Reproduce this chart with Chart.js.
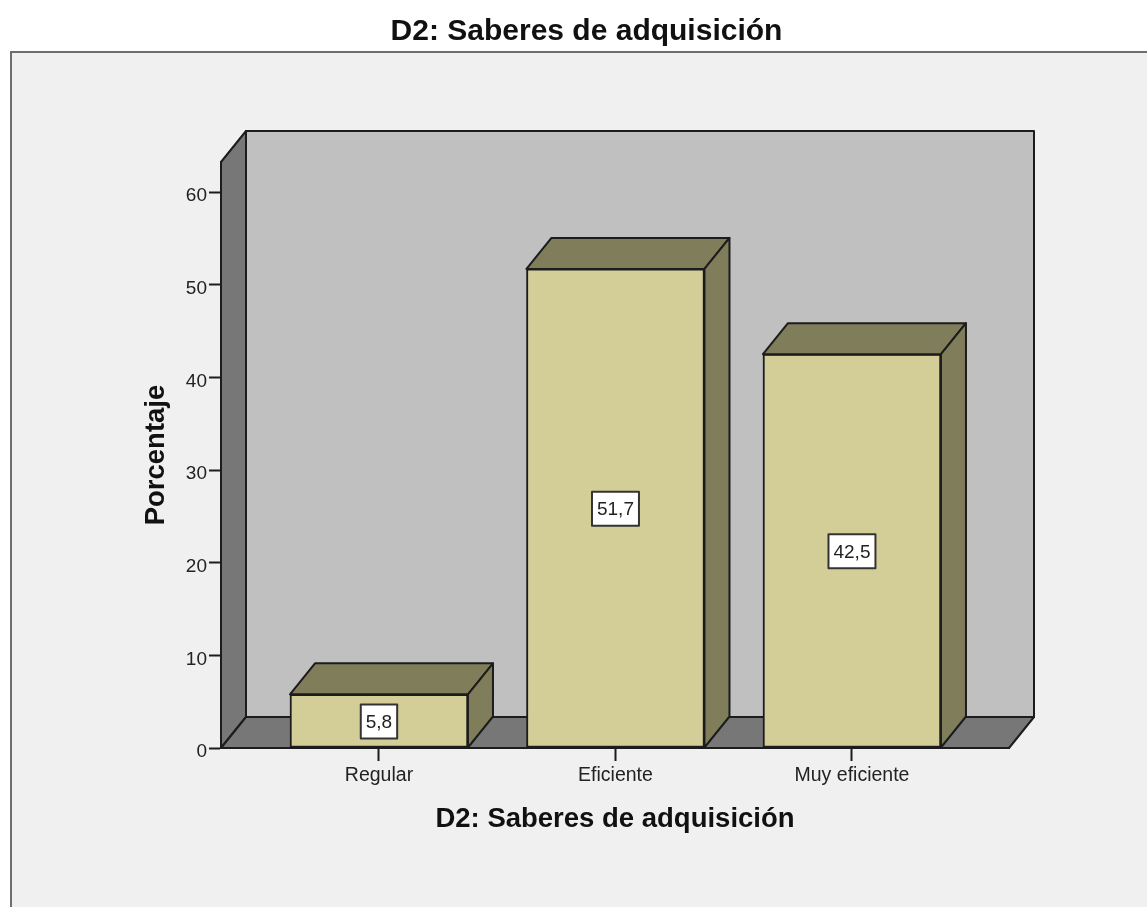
<!DOCTYPE html>
<html>
<head>
<meta charset="utf-8">
<title>D2: Saberes de adquisición</title>
<script src="https://cdn.jsdelivr.net/npm/chart.js@4"></script>
<style>
  html, body { margin: 0; padding: 0; background: #fff; overflow: hidden; }
  #wrap { width: 1147px; height: 907px; }
</style>
</head>
<body>
<div id="wrap"><canvas id="chart" width="1147" height="907"></canvas></div>
<script>
// Data
var categories = ['Regular', 'Eficiente', 'Muy eficiente'];
var percentages = [5.8, 51.7, 42.5];
var yTicks = [0, 10, 20, 30, 40, 50, 60];
var chartTitle = 'D2: Saberes de adquisición';
var yTitle = 'Porcentaje';

var LINE = '#1c1c1c';
var FONT = '"Liberation Sans", Arial, sans-serif';
var DEPTH_X = 25, DEPTH_Y = 31;

// ── Panel and the box behind the bars ─────────────
function poly(ctx, pts, fill) {
  ctx.beginPath();
  ctx.moveTo(pts[0][0], pts[0][1]);
  for (var i = 1; i < pts.length; i++) ctx.lineTo(pts[i][0], pts[i][1]);
  ctx.closePath();
  ctx.fillStyle = fill;
  ctx.fill();
  ctx.strokeStyle = LINE;
  ctx.lineWidth = 2;
  ctx.lineJoin = 'round';
  ctx.stroke();
}

var backdrop = {
  id: 'backdrop',
  // the title sits a little right of the page centre
  afterLayout: function(chart) {
    chart.titleBlock.left += 11.5;
    chart.titleBlock.right += 11.5;
  },
  beforeDraw: function(chart) {
    var ctx = chart.ctx, a = chart.chartArea;
    var l = a.left, r = a.right, t = a.top, b = a.bottom;
    ctx.save();
    ctx.fillStyle = '#f0f0f0';
    ctx.fillRect(11, 52, chart.width - 11, chart.height - 52);
    ctx.strokeStyle = '#6e6e6e';
    ctx.lineWidth = 2;
    ctx.beginPath();
    ctx.moveTo(11, chart.height);
    ctx.lineTo(11, 52);
    ctx.lineTo(chart.width, 52);
    ctx.stroke();
    poly(ctx, [[l + DEPTH_X, t - DEPTH_Y], [r + DEPTH_X, t - DEPTH_Y], [r + DEPTH_X, b - DEPTH_Y], [l + DEPTH_X, b - DEPTH_Y]], '#c0c0c0');
    poly(ctx, [[l, b], [l, t], [l + DEPTH_X, t - DEPTH_Y], [l + DEPTH_X, b - DEPTH_Y]], '#777777');
    poly(ctx, [[l, b], [l + DEPTH_X, b - DEPTH_Y], [r + DEPTH_X, b - DEPTH_Y], [r, b]], '#777777');
    ctx.restore();
  }
};

// ── Top and side of every bar, plus the value boxes ─
var barExtras = {
  id: 'barExtras',
  afterDatasetsDraw: function(chart) {
    var ctx = chart.ctx;
    var bars = chart.getDatasetMeta(0).data;
    ctx.save();
    bars.forEach(function(bar) {
      var x0 = bar.x - bar.width / 2, x1 = bar.x + bar.width / 2;
      poly(ctx, [[x0, bar.y], [x0 + DEPTH_X, bar.y - DEPTH_Y], [x1 + DEPTH_X, bar.y - DEPTH_Y], [x1, bar.y]], '#807d5b');
      poly(ctx, [[x1, bar.y], [x1 + DEPTH_X, bar.y - DEPTH_Y], [x1 + DEPTH_X, bar.base - DEPTH_Y], [x1, bar.base]], '#807d5b');
    });
    ctx.font = '19px ' + FONT;
    ctx.textAlign = 'center';
    ctx.textBaseline = 'middle';
    bars.forEach(function(bar, i) {
      var text = String(percentages[i]).replace('.', ',');
      var w = ctx.measureText(text).width + 10;
      var h = 34;
      var cy = (bar.y + bar.base) / 2 + 0.5;
      ctx.fillStyle = '#ffffff';
      ctx.fillRect(bar.x - w / 2, cy - h / 2, w, h);
      ctx.strokeStyle = '#333333';
      ctx.lineWidth = 2;
      ctx.strokeRect(bar.x - w / 2, cy - h / 2, w, h);
      ctx.fillStyle = '#222222';
      ctx.fillText(text, bar.x, cy + 1);
    });
    ctx.restore();
  }
};

new Chart(document.getElementById('chart'), {
  type: 'bar',
  data: {
    labels: categories,
    datasets: [{
      label: yTitle,
      data: categories.map(function(c, i){ return { x: i, y: percentages[i] }; }),
      backgroundColor: '#d3ce98',
      borderColor: LINE,
      borderWidth: 2,
      borderSkipped: false,
      barThickness: 178
    }]
  },
  options: {
    responsive: false,
    animation: false,
    layout: {
      autoPadding: false,
      padding: { left: 141, right: 138, top: 0, bottom: 72 }
    },
    plugins: {
      legend: { display: false },
      tooltip: { enabled: false },
      title: {
        display: true,
        text: chartTitle,
        color: '#111111',
        font: { family: FONT, size: 30, weight: 'bold', lineHeight: 1.2 },
        padding: { top: 14, bottom: 112 }
      }
    },
    scales: {
      x: {
        type: 'linear',
        offset: false,
        min: -0.668,
        max: 2.664,
        border: { color: LINE, width: 2 },
        grid: { offset: false, drawOnChartArea: false, tickLength: 13, tickColor: LINE, tickWidth: 2 },
        ticks: {
          stepSize: 1,
          includeBounds: false,
          autoSkip: false,
          maxRotation: 0,
          color: '#222222',
          padding: 3,
          font: { family: FONT, size: 19.5 },
          callback: function(v){ return categories[v]; }
        },
        title: {
          display: true,
          text: chartTitle,
          color: '#111111',
          font: { family: FONT, size: 27.5, weight: 'bold', lineHeight: 1.1 },
          padding: 0
        },
        afterFit: function(s){ s.height = 87; }
      },
      y: {
        min: 0,
        max: 63.24,
        border: { color: LINE, width: 2 },
        grid: { drawOnChartArea: false, tickLength: 12, tickColor: LINE, tickWidth: 2 },
        ticks: {
          stepSize: 10,
          includeBounds: false,
          color: '#222222',
          padding: 2,
          labelOffset: 4,
          font: { family: FONT, size: 19 },
          callback: function(v){ return yTicks.indexOf(v) >= 0 ? String(v) : ''; }
        },
        title: {
          display: true,
          text: yTitle,
          color: '#111111',
          font: { family: FONT, size: 27.5, weight: 'bold', lineHeight: 1.1 },
          padding: 0
        },
        afterFit: function(s){ s.width = 80; }
      }
    }
  },
  plugins: [backdrop, barExtras]
});
</script>
</body>
</html>
